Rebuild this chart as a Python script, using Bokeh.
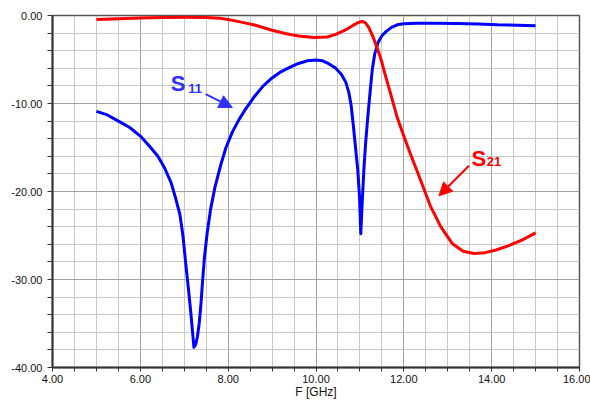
from bokeh.plotting import figure
from bokeh.models import Range1d, FixedTicker, Arrow, NormalHead, ColumnDataSource
from bokeh.core.properties import value
from bokeh.embed import file_html
from bokeh.resources import INLINE

# ---- data ----
s11_f = [5.0, 5.25, 5.5, 5.75, 6.0, 6.2, 6.4, 6.55, 6.7, 6.8, 6.9, 6.97, 7.03, 7.1,
         7.15, 7.19, 7.22, 7.26, 7.3, 7.34, 7.38, 7.42, 7.46, 7.52, 7.6, 7.7, 7.83,
         7.95, 8.1, 8.25, 8.4, 8.6, 8.8, 9.0, 9.2, 9.4, 9.6, 9.8, 10.0, 10.15, 10.3,
         10.45, 10.58, 10.68, 10.75, 10.8, 10.85, 10.9, 10.95, 10.99, 11.02, 11.05,
         11.09, 11.13, 11.18, 11.23, 11.28, 11.34, 11.42, 11.5, 11.6, 11.72, 11.85,
         12.0, 12.3, 12.7, 13.2, 13.7, 14.13, 14.6, 15.0]
s11_db = [-10.9, -11.3, -12.0, -12.7, -13.7, -14.8, -16.0, -17.3, -19.0, -20.7, -22.6,
          -25.0, -28.0, -31.3, -33.8, -36.0, -37.7, -37.4, -36.5, -35.0, -32.8, -30.0,
          -27.5, -24.8, -22.0, -19.5, -17.0, -15.0, -13.2, -11.8, -10.6, -9.2, -8.0,
          -7.1, -6.4, -5.9, -5.45, -5.15, -5.05, -5.15, -5.5, -6.0, -6.7, -7.6, -8.8,
          -10.2, -12.5, -15.0, -17.5, -20.5, -24.8, -21.5, -17.5, -14.5, -11.5, -8.8,
          -6.2, -4.3, -3.0, -2.3, -1.8, -1.35, -1.06, -0.93, -0.88, -0.88, -0.91,
          -0.97, -1.06, -1.1, -1.17]

s21_f = [5.0, 5.5, 6.0, 6.5, 7.0, 7.5, 7.8, 8.05, 8.3, 8.6, 9.0, 9.3, 9.6, 9.95, 10.25,
         10.45, 10.65, 10.85, 10.97, 11.05, 11.13, 11.2, 11.28, 11.36, 11.47, 11.58,
         11.7, 11.85, 11.97, 12.14, 12.38, 12.6, 12.84, 13.1, 13.35, 13.6, 13.85, 14.1,
         14.36, 14.7, 15.0]
s21_db = [-0.45, -0.38, -0.28, -0.22, -0.2, -0.22, -0.3, -0.5, -0.75, -1.08, -1.68,
          -2.05, -2.32, -2.5, -2.45, -2.15, -1.7, -1.1, -0.78, -0.68, -0.85, -1.36,
          -2.2, -3.25, -4.8, -6.8, -8.9, -11.6, -13.3, -15.6, -18.7, -21.6, -24.0,
          -25.9, -26.8, -27.05, -26.95, -26.65, -26.2, -25.5, -24.7]

x_ticks = [4, 6, 8, 10, 12, 14, 16]
x_tick_labels = ["4.00", "6.00", "8.00", "10.00", "12.00", "14.00", "16.00"]
x_minor = [4.5, 5, 5.5, 6.5, 7, 7.5, 8.5, 9, 9.5, 10.5, 11, 11.5, 12.5, 13, 13.5, 14.5, 15, 15.5]
y_ticks = [-40, -30, -20, -10, 0]
y_tick_labels = ["-40.00", "-30.00", "-20.00", "-10.00", "0.00"]
y_minor = [-38, -36, -34, -32, -28, -26, -24, -22, -18, -16, -14, -12, -8, -6, -4, -2]

# annotations (data coords)
ann_main = ["S", "S"]
ann_sub = ["11", "21"]
ann_x = [6.69, 13.54]
ann_y = [-7.7, -16.2]
ann_sub_x = [7.09, 13.89]
ann_sub_y = [-8.3, -16.6]
ann_colors = ["#3030ff", "#ff0000"]
arrow_x0 = [7.485, 13.483]
arrow_y0 = [-8.93, -17.08]
arrow_x1 = [8.094, 12.80]
arrow_y1 = [-10.45, -20.49]

FONT = "Liberation Sans"

p = figure(width=590, height=402, output_backend="svg", toolbar_location=None,
           x_range=Range1d(4, 16), y_range=Range1d(-40, 0),
           min_border_left=52, min_border_right=11, min_border_top=15, min_border_bottom=35)
p.background_fill_color = "white"
p.border_fill_color = "white"
p.outline_line_color = "#555555"
p.outline_line_width = 1.5

# axes
p.xaxis.ticker = FixedTicker(ticks=x_ticks, minor_ticks=x_minor)
p.yaxis.ticker = FixedTicker(ticks=y_ticks, minor_ticks=y_minor)
p.xaxis.major_label_overrides = dict(zip(x_ticks, x_tick_labels))
p.yaxis.major_label_overrides = dict(zip(y_ticks, y_tick_labels))
for ax in (p.xaxis[0], p.yaxis[0]):
    ax.axis_line_color = "#333333"
    ax.axis_line_width = 2
    ax.major_tick_line_color = "#333333"
    ax.minor_tick_line_color = "#333333"
    ax.major_tick_in = 0
    ax.minor_tick_in = 0
    ax.major_label_text_font = FONT
    ax.major_label_text_font_size = "11px"
    ax.major_label_text_color = "#111111"
p.xaxis.major_tick_out = 4
p.xaxis.minor_tick_out = 4
p.yaxis.major_tick_out = 5
p.yaxis.minor_tick_out = 5
p.xaxis.major_label_standoff = 3
p.yaxis.major_label_standoff = 5
p.xaxis.axis_label = "F [GHz]"
p.xaxis.axis_label_text_font = FONT
p.xaxis.axis_label_text_font_size = "12px"
p.xaxis.axis_label_text_font_style = "normal"
p.xaxis.axis_label_text_color = "#111111"
p.xaxis.axis_label_standoff = -1

# grid
p.xgrid.ticker = FixedTicker(ticks=x_ticks, minor_ticks=x_minor)
p.ygrid.ticker = FixedTicker(ticks=y_ticks, minor_ticks=y_minor)
for g in (p.xgrid[0], p.ygrid[0]):
    g.grid_line_color = "#a0a0a0"
    g.grid_line_width = 1
    g.minor_grid_line_color = "#c8c8c8"
    g.minor_grid_line_width = 1

# curves
p.line(s11_f, s11_db, line_color="#0000ff", line_width=3, line_join="round")
p.line(s21_f, s21_db, line_color="#ff0000", line_width=3, line_join="round")

# annotations
src = ColumnDataSource(dict(x=ann_x, y=ann_y, t=ann_main, c=ann_colors,
                            sx=ann_sub_x, sy=ann_sub_y, st=ann_sub))
p.text(x="x", y="y", text="t", text_color="c", source=src,
       text_font=value(FONT), text_font_style="bold", text_font_size="22px",
       text_align="left", text_baseline="alphabetic")
p.text(x="sx", y="sy", text="st", text_color="c", source=src,
       text_font=value(FONT), text_font_style="bold", text_font_size="13px",
       text_align="left", text_baseline="alphabetic")
for i in range(len(arrow_x0)):
    c = ann_colors[i]
    p.add_layout(Arrow(end=NormalHead(size=13, fill_color=c, line_color=c),
                       x_start=arrow_x0[i], y_start=arrow_y0[i],
                       x_end=arrow_x1[i], y_end=arrow_y1[i],
                       line_color=c, line_width=2))

open("out.html", "w").write(file_html(p, INLINE))
